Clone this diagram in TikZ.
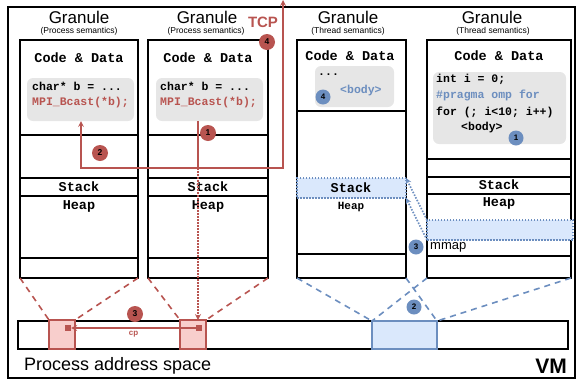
\documentclass[tikz,border=0pt]{standalone}
\usepackage{fontspec}
\setmainfont{Liberation Sans}
\setmonofont{Liberation Mono}
\usetikzlibrary{shapes.geometric, arrows}
\definecolor{redline}{HTML}{B85450}
\definecolor{redfill}{HTML}{F8CECC}
\definecolor{blueline}{HTML}{6C8EBF}
\definecolor{bluefill}{HTML}{DAE8FC}
\definecolor{codegray}{HTML}{E6E6E6}
\tikzstyle{section} = [rectangle, draw=black, line width=1.6pt, anchor=north west, inner sep=0pt, outer sep=0pt]
\tikzstyle{codebox} = [rectangle, rounded corners=6pt, fill=codegray, anchor=north west, inner sep=0pt, outer sep=0pt]
\tikzstyle{granule} = [inner sep=0pt, font=\fontsize{17}{17}\selectfont]
\tikzstyle{semantics} = [inner sep=0pt, font=\fontsize{8.5}{9}\selectfont]
\tikzstyle{seglabel} = [inner sep=0pt, font=\ttfamily\bfseries\fontsize{13.5}{14}\selectfont]
\tikzstyle{codeline} = [anchor=west, inner sep=0pt, font=\ttfamily\bfseries\fontsize{11.5}{12}\selectfont]
\tikzstyle{redstep} = [circle, fill=redline, inner sep=0pt, minimum size=16pt, font=\bfseries\fontsize{8.5}{8.5}\selectfont]
\tikzstyle{bluestep} = [circle, fill=blueline, inner sep=0pt, minimum size=15pt, font=\bfseries\fontsize{8}{8}\selectfont]
\tikzstyle{redarrow} = [draw=redline, line width=1.6pt, ->, >=stealth]
\tikzstyle{redmap} = [draw=redline, line width=1.6pt, dash pattern=on 6pt off 5pt]
\tikzstyle{bluemap} = [draw=blueline, line width=1.6pt, dash pattern=on 6pt off 5pt]
\tikzstyle{bluedot} = [draw=blueline, line width=1.6pt, dash pattern=on 1.5pt off 1.5pt, ->, >=stealth]
\begin{document}
\begin{tikzpicture}[x=1pt, y=-1pt]
                \useasboundingbox (0,0) rectangle (576,381);
                \node (vm) [section, minimum width=567pt, minimum height=371pt] at (8,7) {};

                \node (gr1) [granule] at (79,17) {Granule};
                \node (sem1) [semantics] at (79,31) {(Process semantics)};
                \node (gr2) [granule] at (207,17) {Granule};
                \node (sem2) [semantics] at (206,31) {(Process semantics)};
                \node (gr3) [granule] at (348,17) {Granule};
                \node (sem3) [semantics] at (348,31) {(Thread semantics)};
                \node (gr4) [granule] at (492,17) {Granule};
                \node (sem4) [semantics] at (493,31) {(Thread semantics)};

                \node (code1) [section, minimum width=118pt, minimum height=95pt] at (20,40) {};
                \node (gap1) [section, minimum width=118pt, minimum height=43pt] at (20,135) {};
                \node (stk1) [section, minimum width=118pt, minimum height=18pt] at (20,178) {};
                \node (heap1) [section, minimum width=118pt, minimum height=62pt] at (20,196) {};
                \node (bot1) [section, minimum width=118pt, minimum height=20pt] at (20,258) {};

                \node (code2) [section, minimum width=120pt, minimum height=95pt] at (148,40) {};
                \node (gap2) [section, minimum width=120pt, minimum height=43pt] at (148,135) {};
                \node (stk2) [section, minimum width=120pt, minimum height=18pt] at (148,178) {};
                \node (heap2) [section, minimum width=120pt, minimum height=62pt] at (148,196) {};
                \node (bot2) [section, minimum width=120pt, minimum height=20pt] at (148,258) {};

                \node (code3) [section, minimum width=109pt, minimum height=71pt] at (297,40) {};
                \node (heap3) [section, minimum width=109pt, minimum height=143pt] at (297,111) {};
                \node (bot3) [section, minimum width=109pt, minimum height=24pt] at (297,254) {};

                \node (code4) [section, minimum width=144pt, minimum height=119pt] at (427,40) {};
                \node (gap4) [section, minimum width=144pt, minimum height=18pt] at (427,159) {};
                \node (stk4) [section, minimum width=144pt, minimum height=17pt] at (427,177) {};
                \node (heap4) [section, minimum width=144pt, minimum height=62pt] at (427,194) {};
                \node (bot4) [section, minimum width=144pt, minimum height=22pt] at (427,256) {};

                \node (cd1) [codebox, minimum width=107pt, minimum height=43pt] at (27,78) {};
                \node (cd2) [codebox, minimum width=107pt, minimum height=43pt] at (156,78) {};
                \node (cd3) [codebox, minimum width=79pt, minimum height=41pt] at (315,66) {};
                \node (cd4) [codebox, minimum width=133pt, minimum height=72pt] at (433,72) {};

                \node (cdl1) [seglabel] at (79,58) {Code \& Data};
                \node (cdl2) [seglabel] at (208,58) {Code \& Data};
                \node (cdl3) [seglabel] at (350,56) {Code \& Data};
                \node (cdl4) [seglabel] at (499,56) {Code \& Data};

                \node (c1a) [codeline] at (32,86) {char* b = ...};
                \node (c1b) [codeline, text=redline] at (32,103) {MPI\_Bcast(*b);};
                \node (c2a) [codeline] at (160,86) {char* b = ...};
                \node (c2b) [codeline, text=redline] at (160,103) {MPI\_Bcast(*b);};
                \node (c3a) [codeline] at (318,75) {...};
                \node (c3b) [codeline, text=blueline] at (340,91) {<body>};
                \node (c4a) [codeline] at (436,79) {int i = 0;};
                \node (c4b) [codeline, text=blueline] at (436,95) {\#pragma omp for};
                \node (c4c) [codeline] at (436,112) {for (; i<10; i++)};
                \node (c4d) [codeline] at (461,128) {<body>};

                \node (sl1) [seglabel] at (79,187) {Stack};
                \node (hl1) [seglabel] at (79,206) {Heap};
                \node (sl2) [seglabel] at (208,187) {Stack};
                \node (hl2) [seglabel] at (208,206) {Heap};
                \node (stk3) [section, dash pattern=on 1.5pt off 1.5pt, draw=blueline, fill=bluefill, minimum width=109pt, minimum height=20pt] at (297,178) {};
                \node (sl3) [seglabel] at (351,188) {Stack};
                \node (hl3) [seglabel, font=\ttfamily\bfseries\fontsize{11}{11}\selectfont] at (351,207) {Heap};
                \node (sl4) [seglabel] at (499,185) {Stack};
                \node (hl4) [seglabel] at (499,203) {Heap};
                \node (mm4) [section, dash pattern=on 1.5pt off 1.5pt, draw=blueline, fill=bluefill, minimum width=146pt, minimum height=20pt] at (427,220) {};
                \node (mml) [anchor=west, inner sep=0pt, font=\fontsize{13}{13}\selectfont] at (430,247) {mmap};

                \node (pas) [section, minimum width=550pt, minimum height=28pt] at (18,321) {};
                \node (pa1) [section, draw=redline, fill=redfill, minimum width=26pt, minimum height=29pt] at (49,320) {};
                \node (pa2) [section, draw=redline, fill=redfill, minimum width=26pt, minimum height=29pt] at (180,320) {};
                \node (pa3) [section, draw=blueline, fill=bluefill, minimum width=65pt, minimum height=28pt] at (372,321) {};
                \node (dot1) [rectangle, fill=redline, minimum size=6pt, inner sep=0pt] at (68,328) {};
                \node (dot2) [rectangle, fill=redline, minimum size=6pt, inner sep=0pt] at (199,328) {};
                \node (pasl) [anchor=west, inner sep=0pt, font=\fontsize{18}{18}\selectfont] at (24,366) {Process address space};
                \node (vml) [inner sep=0pt, font=\bfseries\fontsize{21}{21}\selectfont] at (551,366) {VM};

                \coordinate (split) at (198,168);
                \coordinate (lc) at (81,168);
                \coordinate (rc) at (283,168);
                \coordinate (tcp) at (283,0);

                \draw [redmap] (bot1.south west) -- (pa1.north west);
                \draw [redmap] (bot1.south east) -- (pa1.north east);
                \draw [redmap] (bot2.south west) -- (pa2.north west);
                \draw [redmap] (bot2.south east) -- (pa2.north east);
                \draw [bluemap] (bot3.south west) -- (pa3.north west);
                \draw [bluemap] (bot3.south east) -- (pa3.north east);
                \draw [bluemap] (bot4.south west) -- (pa3.north west);
                \draw [bluemap] (bot4.south east) -- (pa3.north east);

                \draw [draw=redline, line width=1.6pt] (split |- cd2.south) -- (split);
                \draw [redarrow] (split) -- (lc) -- (lc |- cd1.south);
                \draw [redarrow] (split) -- (rc) -- (tcp);
                \draw [redarrow, dash pattern=on 1.5pt off 1.5pt] (split) -- (split |- pa2.north);
                \draw [redarrow] (dot2) -- node[below, inner sep=2pt, text=redline, font=\bfseries\fontsize{8}{8}\selectfont] {cp} (dot1);
                \draw [bluedot] (mm4.north west) -- (stk3.north east);
                \draw [bluedot] (mm4.south west) -- (stk3.south east);

                \node (tcpl) [text=redline, inner sep=0pt, font=\bfseries\fontsize{15}{15}\selectfont] at (263,22) {TCP};
                \node (r4) [redstep] at (267,42) {4};
                \node (r1) [redstep] at (208,133) {1};
                \node (r2) [redstep] at (100,153) {2};
                \node (r3) [redstep] at (135,314) {3};
                \node (b4) [bluestep] at (323,97) {4};
                \node (b1) [bluestep] at (516,138) {1};
                \node (b3) [bluestep] at (416,247) {3};
                \node (b2) [bluestep] at (414,307) {2};
            \end{tikzpicture}
\end{document}
